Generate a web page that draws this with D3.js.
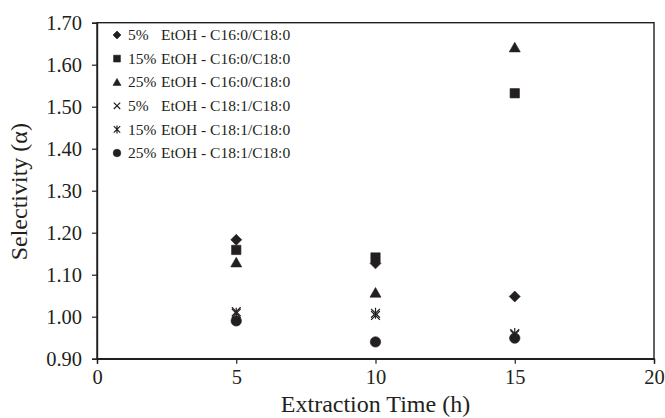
<!DOCTYPE html>
<html>
<head>
<meta charset="utf-8">
<script src="https://cdn.jsdelivr.net/npm/d3@7"></script>
<style>
  body { margin: 0; background: #fff; }
  text { font-family: "Liberation Serif", "Times New Roman", serif; fill: #231f20; }
</style>
</head>
<body>
<div id="chart"></div>
<script>
// extraction times (h)
let times = [5, 10, 15];

// selectivity values
let etoh5_c16 = [1.183, 1.127, 1.048];
let etoh15_c16 = [1.159, 1.141, 1.532];
let etoh25_c16 = [1.129, 1.057, 1.641];
let etoh5_c181 = [1.012, 1.003, 0.957];
let etoh15_c181 = [1.008, 1.008, 0.960];
let etoh25_c181 = [0.990, 0.940, 0.949];

let seriesNames = ['5%', '15%', '25%', '5%', '15%', '25%'];
let seriesRatio = ['C16:0/C18:0', 'C16:0/C18:0', 'C16:0/C18:0', 'C18:1/C18:0', 'C18:1/C18:0', 'C18:1/C18:0'];
let seriesValues = [etoh5_c16, etoh15_c16, etoh25_c16, etoh5_c181, etoh15_c181, etoh25_c181];
let seriesMarkers = ['diamond', 'square', 'triangle', 'cross', 'asterisk', 'circle'];

let xTicks = [0, 5, 10, 15, 20];
let yTicks = [0.90, 1.00, 1.10, 1.20, 1.30, 1.40, 1.50, 1.60, 1.70];

let width = 665, height = 418;
let ink = '#231f20';

let svg = d3.select('#chart').append('svg')
    .attr('width', width)
    .attr('height', height);

let xScale = d3.scaleLinear().domain([0, 20]).range([97, 654]);
let yScale = d3.scaleLinear().domain([0.9, 1.7]).range([358.7, 22.7]);

// marker shapes, s = overall size in px
function markerPath(type, s) {
    let h = s / 2;
    let p = d3.path();
    if (type === 'diamond') {
        p.moveTo(0, -h); p.lineTo(h, 0); p.lineTo(0, h); p.lineTo(-h, 0); p.closePath();
    } else if (type === 'square') {
        let q = h * 0.85;
        p.rect(-q, -q, 2 * q, 2 * q);
    } else if (type === 'triangle') {
        p.moveTo(0, -h * 0.95); p.lineTo(h, h * 0.8); p.lineTo(-h, h * 0.8); p.closePath();
    } else if (type === 'circle') {
        p.arc(0, 0, h * 0.95, 0, 2 * Math.PI);
    } else if (type === 'cross') {
        let q = h * 0.8;
        p.moveTo(-q, -q); p.lineTo(q, q); p.moveTo(q, -q); p.lineTo(-q, q);
    } else if (type === 'asterisk') {
        let q = h * 0.8;
        p.moveTo(-q, -q); p.lineTo(q, q); p.moveTo(q, -q); p.lineTo(-q, q);
        p.moveTo(0, -h); p.lineTo(0, h);
    }
    return p.toString();
}

function drawMarker(g, type, s) {
    let open = (type === 'cross' || type === 'asterisk');
    g.append('path')
        .attr('d', markerPath(type, s))
        .attr('fill', open ? 'none' : ink)
        .attr('stroke', ink)
        .attr('stroke-width', open ? 1.2 : 0.6);
}

// frame
svg.append('rect')
    .attr('x', xScale(0)).attr('y', yScale(1.7))
    .attr('width', xScale(20) - xScale(0))
    .attr('height', yScale(0.9) - yScale(1.7))
    .attr('fill', 'none').attr('stroke', ink).attr('stroke-width', 1.4);

// axes
let xAxis = svg.append('g')
    .attr('transform', 'translate(0,' + yScale(0.9) + ')')
    .call(d3.axisBottom(xScale).tickValues(xTicks).tickSize(5).tickPadding(6).tickFormat(d3.format('d')));
let yAxis = svg.append('g')
    .attr('transform', 'translate(' + xScale(0) + ',0)')
    .call(d3.axisLeft(yScale).tickValues(yTicks).tickSize(5).tickPadding(10).tickFormat(d3.format('.2f')));

[xAxis, yAxis].forEach(function (ax) {
    ax.select('.domain').attr('stroke', ink).attr('stroke-width', 1.4);
    ax.selectAll('.tick line').attr('stroke', ink).attr('stroke-width', 1.2);
    ax.selectAll('.tick text').attr('fill', ink)
        .style('font-family', '"Liberation Serif", serif')
        .style('font-size', '20.5px');
});

// axis titles
svg.append('text')
    .attr('x', (xScale(0) + xScale(20)) / 2)
    .attr('y', 412)
    .attr('text-anchor', 'middle')
    .style('font-size', '24px')
    .text('Extraction Time (h)');

svg.append('text')
    .attr('transform', 'translate(27,' + (yScale(1.3) + 1) + ') rotate(-90)')
    .attr('text-anchor', 'middle')
    .style('font-size', '24px')
    .text('Selectivity (α)');

// data points
seriesValues.forEach(function (vals, i) {
    vals.forEach(function (v, j) {
        let g = svg.append('g')
            .attr('transform', 'translate(' + xScale(times[j]) + ',' + yScale(v) + ')');
        drawMarker(g, seriesMarkers[i], 11);
    });
});

// legend
let legend = svg.append('g');
seriesNames.forEach(function (name, i) {
    let yy = 35 + i * 23.6;
    let g = legend.append('g').attr('transform', 'translate(117,' + yy + ')');
    drawMarker(g, seriesMarkers[i], 8);
    let t = legend.append('text')
        .attr('y', yy)
        .attr('dy', '0.33em')
        .style('font-size', '15.5px');
    t.append('tspan').attr('x', 128).text(name);
    t.append('tspan').attr('x', 161).text('EtOH - ' + seriesRatio[i]);
});
</script>
</body>
</html>
